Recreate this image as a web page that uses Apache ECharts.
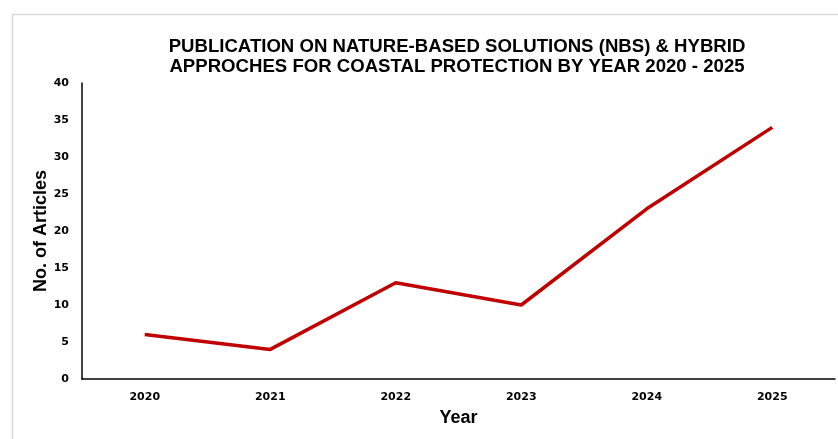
<!DOCTYPE html>
<html><head><meta charset="utf-8">
<script src="https://cdn.jsdelivr.net/npm/echarts@6/dist/echarts.min.js"></script>
<style>html,body{margin:0;padding:0;background:#fff}#c{width:838px;height:439px}</style>
</head><body><div id="c"></div>
<script>
const years = ['2020','2021','2022','2023','2024','2025'];
const articles = [6, 4, 13, 10, 23, 34];
const yTicks = {min: 0, max: 40, interval: 5};
const titleText = 'PUBLICATION ON NATURE-BASED SOLUTIONS (NBS) & HYBRID\nAPPROCHES FOR COASTAL PROTECTION BY YEAR 2020 - 2025';

const chart = echarts.init(document.getElementById('c'), null, {renderer: 'canvas'});
chart.setOption({
  animation: false,
  backgroundColor: '#fff',
  graphic: [{
    type: 'rect', left: 10, top: 12, silent: true, z: -1,
    shape: {width: 840, height: 440},
    style: {fill: 'none', stroke: '#d9d9d9', lineWidth: 1.5}
  }],
  title: {
    text: titleText,
    left: 452, top: 32, textAlign: 'center',
    textStyle: {fontFamily: '"Liberation Sans Narrow", "Arial Narrow", "Liberation Sans", sans-serif', fontWeight: 'bold', fontSize: 18.6, lineHeight: 20, color: '#000'}
  },
  grid: {left: 82, right: 3, top: 83, bottom: 60, containLabel: false},
  xAxis: {
    type: 'category', data: years, boundaryGap: true,
    axisLine: {lineStyle: {color: '#000', width: 1.5}},
    axisTick: {show: false},
    axisLabel: {margin: 13, color: '#000', fontWeight: 'bold', fontSize: 11, fontFamily: '"DejaVu Sans", Verdana, sans-serif'},
    name: 'Year', nameLocation: 'middle', nameGap: 30, nameMoveOverlap: false,
    nameTextStyle: {color: '#000', fontWeight: 'bold', fontSize: 18, fontFamily: '"Liberation Sans", Arial, sans-serif'}
  },
  yAxis: {
    type: 'value', min: yTicks.min, max: yTicks.max, interval: yTicks.interval,
    axisLine: {show: true, lineStyle: {color: '#000', width: 1.5}},
    axisTick: {show: false},
    splitLine: {show: false},
    axisLabel: {margin: 13, color: '#000', fontWeight: 'bold', fontSize: 11, fontFamily: '"DejaVu Sans", Verdana, sans-serif'},
    name: 'No. of Articles', nameLocation: 'middle', nameGap: 32, nameMoveOverlap: false,
    nameTextStyle: {color: '#000', fontWeight: 'bold', fontSize: 18, fontFamily: '"Liberation Sans", Arial, sans-serif'}
  },
  series: [{
    type: 'line', data: articles, symbol: 'none',
    lineStyle: {color: '#C00000', width: 3.5}
  }]
});
</script></body></html>
